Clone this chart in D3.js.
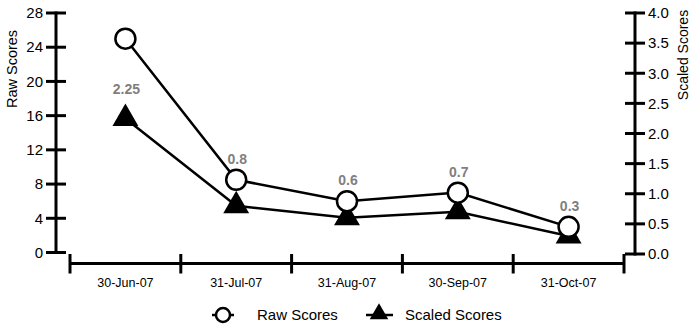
<!DOCTYPE html>
<html>
<head>
<meta charset="utf-8">
<script src="https://cdn.jsdelivr.net/npm/d3@7/dist/d3.min.js"></script>
<style>
  html, body { margin: 0; padding: 0; background: #fff; }
  svg { display: block; font-family: "Liberation Sans", Arial, sans-serif; }
</style>
</head>
<body>
<svg id="chart" width="690" height="331"></svg>
<script>
const categories = ["30-Jun-07", "31-Jul-07", "31-Aug-07", "30-Sep-07", "31-Oct-07"];
const rawScores = [25, 8.5, 6, 7, 3];
const scaledScores = [2.25, 0.8, 0.6, 0.7, 0.3];
const scaledLabels = ["2.25", "0.8", "0.6", "0.7", "0.3"];
const leftTicks = [0, 4, 8, 12, 16, 20, 24, 28];
const rightTicks = [0, 0.5, 1.0, 1.5, 2.0, 2.5, 3.0, 3.5, 4.0];
const seriesNames = ["Raw Scores", "Scaled Scores"];

const svg = d3.select("#chart");
const x = d3.scaleBand().domain(categories).range([70, 624]).padding(0);
const yL = d3.scaleLinear().domain([0, 28]).range([252.5, 13]);
const yR = d3.scaleLinear().domain([0, 4]).range([254, 13]);
const cx = d => x(d) + x.bandwidth() / 2;

const AX = 3;
// left axis
const leftX = 56;
const gL = svg.append("g").attr("transform", `translate(${leftX},0)`);
gL.append("line").attr("x1", 0).attr("x2", 0).attr("y1", yL(28) - 1.5).attr("y2", yL(0) + 1.5)
  .attr("stroke", "#000").attr("stroke-width", AX);
gL.selectAll(".t").data(leftTicks).join("line")
  .attr("x1", -10).attr("x2", 10).attr("y1", d => yL(d)).attr("y2", d => yL(d))
  .attr("stroke", "#000").attr("stroke-width", AX);
gL.selectAll(".l").data(leftTicks).join("text")
  .attr("x", -13).attr("y", d => yL(d)).attr("dy", "0.35em").attr("text-anchor", "end")
  .attr("font-size", 15).attr("fill", "#000").text(d => d);

// right axis
const rightX = 635;
const gR = svg.append("g").attr("transform", `translate(${rightX},0)`);
gR.append("line").attr("x1", 0).attr("x2", 0).attr("y1", yR(4) - 1.5).attr("y2", yR(0) + 1.5)
  .attr("stroke", "#000").attr("stroke-width", AX);
gR.selectAll(".t").data(rightTicks).join("line")
  .attr("x1", -10).attr("x2", 10).attr("y1", d => yR(d)).attr("y2", d => yR(d))
  .attr("stroke", "#000").attr("stroke-width", AX);
gR.selectAll(".l").data(rightTicks).join("text")
  .attr("x", 13).attr("y", d => yR(d)).attr("dy", "0.35em").attr("text-anchor", "start")
  .attr("font-size", 15).attr("fill", "#000").text(d => d3.format(".1f")(d));

// x axis
const axY = 263.5;
const gX = svg.append("g");
gX.append("line").attr("x1", x.range()[0]).attr("x2", x.range()[1]).attr("y1", axY).attr("y2", axY)
  .attr("stroke", "#000").attr("stroke-width", AX);
const bounds = categories.map(c => x(c)).concat([x.range()[1]]);
gX.selectAll(".t").data(bounds).join("line")
  .attr("x1", d => d).attr("x2", d => d).attr("y1", axY - 9.5).attr("y2", axY + 10)
  .attr("stroke", "#000").attr("stroke-width", AX);
gX.selectAll(".l").data(categories).join("text")
  .attr("x", d => cx(d)).attr("y", 283).attr("dy", "0.35em").attr("text-anchor", "middle")
  .attr("font-size", 12.5).text(d => d);

// axis titles
svg.append("text").attr("transform", "translate(12,69) rotate(-90)").attr("text-anchor", "middle")
  .attr("dy", "0.35em").attr("font-size", 14.5).text("Raw Scores");
svg.append("text").attr("transform", "translate(683,55) rotate(-90)").attr("text-anchor", "middle")
  .attr("dy", "0.35em").attr("font-size", 14).text("Scaled Scores");

// lines
const lineRaw = d3.line().x((d, i) => cx(categories[i])).y(d => yL(d));
const lineScaled = d3.line().x((d, i) => cx(categories[i])).y(d => yR(d));
svg.append("path").attr("d", lineScaled(scaledScores)).attr("fill", "none").attr("stroke", "#000").attr("stroke-width", 2.5);
svg.append("path").attr("d", lineRaw(rawScores)).attr("fill", "none").attr("stroke", "#000").attr("stroke-width", 2.5);

const tri = d3.symbol().type(d3.symbolTriangle).size(290);
svg.selectAll(".tri").data(scaledScores).join("path")
  .attr("d", tri).attr("transform", (d, i) => `translate(${cx(categories[i])},${yR(d)})`)
  .attr("fill", "#000");
svg.selectAll(".circ").data(rawScores).join("circle")
  .attr("cx", (d, i) => cx(categories[i])).attr("cy", d => yL(d)).attr("r", 10)
  .attr("fill", "#fff").attr("stroke", "#000").attr("stroke-width", 2.5);

// value labels
svg.selectAll(".vl").data(scaledScores).join("text")
  .attr("x", (d, i) => cx(categories[i]) + 1)
  .attr("y", (d, i) => {
    let yl = yR(d) - 29;
    const yc = yL(rawScores[i]);
    if (Math.abs(yl - yc) < 24) yl = yc - 21;
    return yl;
  })
  .attr("dy", "0.35em").attr("text-anchor", "middle")
  .attr("font-size", 14).attr("font-weight", "bold").attr("fill", "#7f7f7f")
  .text((d, i) => scaledLabels[i]);

// legend
const ly = 315;
const lg = svg.append("g");
lg.append("line").attr("x1", 212).attr("x2", 234).attr("y1", ly).attr("y2", ly).attr("stroke", "#000").attr("stroke-width", 2.5);
lg.append("circle").attr("cx", 223).attr("cy", ly).attr("r", 7).attr("fill", "#fff").attr("stroke", "#000").attr("stroke-width", 2.5);
lg.append("text").attr("x", 257).attr("y", ly).attr("dy", "0.35em").attr("font-size", 15).text(seriesNames[0]);
lg.append("line").attr("x1", 366).attr("x2", 393).attr("y1", ly).attr("y2", ly).attr("stroke", "#000").attr("stroke-width", 2.5);
lg.append("path").attr("d", d3.symbol().type(d3.symbolTriangle).size(150)).attr("transform", `translate(379,${ly - 1})`).attr("fill", "#000");
lg.append("text").attr("x", 405).attr("y", ly).attr("dy", "0.35em").attr("font-size", 15).text(seriesNames[1]);
</script>
</body>
</html>
